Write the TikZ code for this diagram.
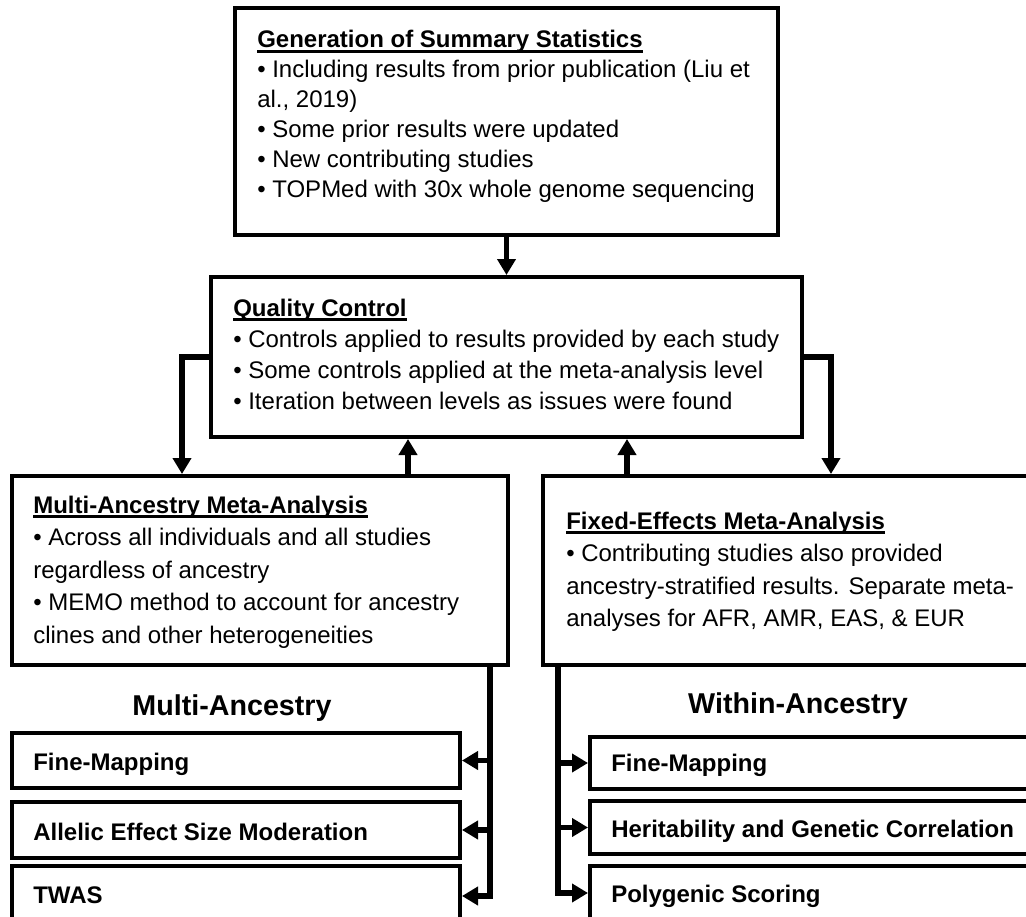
\documentclass[tikz,border=0pt]{standalone}
\usepackage{fontspec}
\setmainfont{Liberation Sans}
\usetikzlibrary{arrows.meta,fit}
\begin{document}
\begin{tikzpicture}[x=0.75pt,y=-0.75pt,
  box/.style={draw,line width=3pt,inner sep=0pt},
  txt/.style={inner sep=0pt,anchor=base west,font=\fontsize{18pt}{21pt}\selectfont},
  hdr/.style={inner sep=0pt,anchor=base west,font=\fontsize{18pt}{21pt}\selectfont\bfseries},
  ttl/.style={inner sep=0pt,anchor=base,font=\fontsize{21.5pt}{25pt}\selectfont\bfseries},
  conn/.style={line width=4.2pt},
  arr/.style={conn,-{Triangle[length=12pt,width=13.5pt]}},
  uline/.style={line width=2pt}]
\useasboundingbox (0,0) rectangle (1026,917);
\clip (0,0) rectangle (1026,917);

% boxes
\node[box,fit={(235,8)(778,235)}] (gen) {};
\node[box,fit={(211,277)(802,437)}] (qc) {};
\node[box,fit={(12,476)(508,665)}] (lm) {};
\node[box,fit={(543,476)(1045,665)}] (rm) {};
\node[box,fit={(12,733)(460,788)}] (lf) {};
\node[box,fit={(12,802)(460,858)}] (la) {};
\node[box,fit={(12,866)(460,926)}] (lt) {};
\node[box,fit={(590,737)(1045,789)}] (rf) {};
\node[box,fit={(590,801)(1045,854)}] (rh) {};
\node[box,fit={(590,866)(1045,920)}] (rp) {};

% top box text
\node[hdr] (g0) at (257,48) {Generation of Summary Statistics};
\draw[uline] ([yshift=-2.8pt]g0.base west) -- ([yshift=-2.8pt]g0.base east);
\node[txt] (g1) at (257,78) {• Including results from prior publication (Liu et};
\node[txt] (g2) at (257,108) {al., 2019)};
\node[txt] (g3) at (257,137.5) {• Some prior results were updated};
\node[txt] (g4) at (257,167.5) {• New contributing studies};
\node[txt] (g5) at (257,197) {• TOPMed with 30x whole genome sequencing};

% QC text
\node[hdr] (q0) at (233,316) {Quality Control};
\draw[uline] ([yshift=-2.8pt]q0.base west) -- ([yshift=-2.8pt]q0.base east);
\node[txt] (q1) at (233,347) {• Controls applied to results provided by each study};
\node[txt] (q2) at (233,378) {• Some controls applied at the meta-analysis level};
\node[txt] (q3) at (233,409) {• Iteration between levels as issues were found};

% left meta text
\node[hdr] (m0) at (33,513) {Multi-Ancestry Meta-Analysis};
\draw[uline] ([yshift=-2.8pt]m0.base west) -- ([yshift=-2.8pt]m0.base east);
\node[txt] (m1) at (33,545.5) {• Across all individuals and all studies};
\node[txt] (m2) at (33,578) {regardless of ancestry};
\node[txt] (m3) at (33,610.5) {• MEMO method to account for ancestry};
\node[txt] (m4) at (33,643) {clines and other heterogeneities};

% right meta text
\node[hdr] (f0) at (566,529) {Fixed-Effects Meta-Analysis};
\draw[uline] ([yshift=-2.8pt]f0.base west) -- ([yshift=-2.8pt]f0.base east);
\node[txt] (f1) at (566,561.5) {• Contributing studies also provided};
\node[txt] (f2) at (566,594) {ancestry-stratified results. Separate meta-};
\node[txt] (f3) at (566,626.5) {analyses for AFR, AMR, EAS, \& EUR};

% titles
\node[ttl] (mat) at (232,715) {Multi-Ancestry};
\node[ttl] (wat) at (798,713) {Within-Ancestry};

% lower box texts
\node[hdr] (lft) at (33,770) {Fine-Mapping};
\node[hdr] (lat) at (33,840) {Allelic Effect Size Moderation};
\node[hdr] (ltt) at (33,903) {TWAS};
\node[hdr] (rft) at (611,771) {Fine-Mapping};
\node[hdr] (rht) at (611,837) {Heritability and Genetic Correlation};
\node[hdr] (rpt) at (611,902) {Polygenic Scoring};

% connectors
\draw[arr] (gen.south) -- (qc.north);
\coordinate (lin) at (182,474);
\coordinate (rin) at (831,474);
\draw[arr] (qc.west) -| (lin);
\draw[arr] (qc.east) -| (rin);
\coordinate (lup) at (408,476);
\coordinate (rup) at (627,476);
\draw[arr] (lup) -- (lup |- qc.south);
\draw[arr] (rup) -- (rup |- qc.south);

\coordinate (lv) at (490,665);
\draw[arr] (lv) |- (lt.east);
\draw[arr] (lv |- lf.east) -- (lf.east);
\draw[arr] (lv |- la.east) -- (la.east);

\coordinate (rv) at (558,665);
\draw[arr] (rv) |- (rp.west);
\draw[arr] (rv |- rf.west) -- (rf.west);
\draw[arr] (rv |- rh.west) -- (rh.west);
\end{tikzpicture}
\end{document}
